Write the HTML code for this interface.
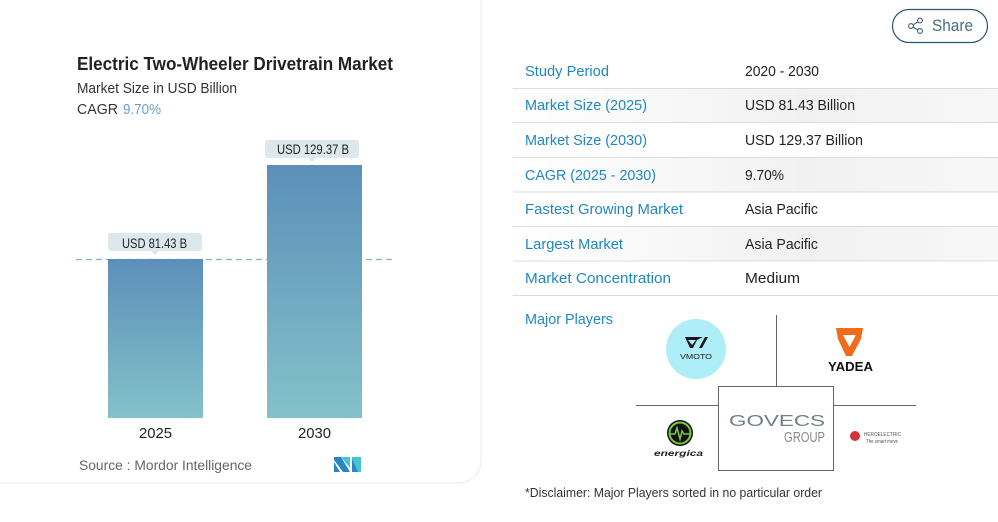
<!DOCTYPE html>
<html><head><meta charset="utf-8"><style>
html,body{margin:0;padding:0;background:#fff;width:998px;height:522px;overflow:hidden}
svg{display:block;font-family:"Liberation Sans",sans-serif}
</style></head><body>
<svg width="998" height="522" viewBox="0 0 998 522" xmlns="http://www.w3.org/2000/svg">
<defs>
<linearGradient id="bar" x1="0" y1="0" x2="0" y2="1">
<stop offset="0" stop-color="#5c8fb9"/>
<stop offset="1" stop-color="#83c2ca"/>
</linearGradient>
<linearGradient id="row" x1="0" y1="0" x2="1" y2="0">
<stop offset="0" stop-color="#ffffff"/>
<stop offset="0.6" stop-color="#f1f1f1"/>
<stop offset="1" stop-color="#f7f7f7"/>
</linearGradient>
</defs>

<!-- card -->
<rect x="-20" y="-20" width="501" height="503" rx="22" fill="#fff" stroke="#ebebeb" stroke-width="1"/>

<!-- title -->
<text x="77" y="70" font-size="18" font-weight="bold" fill="#222" textLength="316" lengthAdjust="spacingAndGlyphs">Electric Two-Wheeler Drivetrain Market</text>
<text x="77" y="93" font-size="15" fill="#333" textLength="160" lengthAdjust="spacingAndGlyphs">Market Size in USD Billion</text>
<text x="77" y="114" font-size="15" fill="#333" textLength="41" lengthAdjust="spacingAndGlyphs">CAGR</text>
<text x="123" y="114" font-size="15" fill="#6a9ed0" textLength="38" lengthAdjust="spacingAndGlyphs">9.70%</text>

<!-- dashed line behind bars -->
<line x1="76" y1="259.5" x2="396" y2="259.5" stroke="#86aed0" stroke-width="1.2" stroke-dasharray="6 4"/>
<!-- bars -->
<rect x="108" y="259" width="95" height="159" fill="url(#bar)"/>
<rect x="267" y="165" width="95" height="253" fill="url(#bar)"/>

<!-- labels -->
<rect x="108" y="233" width="94" height="18" rx="3" fill="#dde8ec"/>
<polygon points="151,251 159,251 155,255" fill="#dde8ec"/>
<text x="122" y="248" font-size="13.5" fill="#222" textLength="65" lengthAdjust="spacingAndGlyphs">USD 81.43 B</text>
<rect x="265" y="140" width="94" height="18" rx="3" fill="#dde8ec"/>
<polygon points="308,158 316,158 312,162" fill="#dde8ec"/>
<text x="277" y="154" font-size="13.5" fill="#222" textLength="72" lengthAdjust="spacingAndGlyphs">USD 129.37 B</text>

<text x="139" y="438" font-size="15" fill="#222" textLength="33" lengthAdjust="spacingAndGlyphs">2025</text>
<text x="298" y="438" font-size="15" fill="#222" textLength="33" lengthAdjust="spacingAndGlyphs">2030</text>

<text x="79" y="470" font-size="13.5" fill="#666" textLength="173" lengthAdjust="spacingAndGlyphs">Source :  Mordor Intelligence</text>
<!-- MI logo -->
<polygon points="334,457 341,457 350,472 343,472 334,460" fill="#2a86c2"/>
<polygon points="334,462 340,472 334,472" fill="#2a86c2"/>
<polygon points="341,457 350,457 350,468" fill="#44c6d0"/>
<polygon points="352,457 361,457 361,472 356,472 352,465" fill="#44c6d0"/>
<polygon points="352,459 358,472 352,472" fill="#2a86c2"/>

<!-- share button -->
<rect x="892.5" y="9.5" width="95" height="33" rx="16.5" fill="#fff" stroke="#2b5670" stroke-width="1.2"/>
<g fill="none" stroke="#4a6c84" stroke-width="1.2">
<circle cx="911" cy="26" r="2.4"/><circle cx="920" cy="20.5" r="2.4"/><circle cx="920" cy="31" r="2.4"/>
<line x1="913" y1="25" x2="918" y2="21.7"/><line x1="913" y1="27" x2="918" y2="30"/>
</g>
<text x="932" y="31" font-size="17" fill="#4a6c84" textLength="41" lengthAdjust="spacingAndGlyphs">Share</text>

<!-- table -->
<rect x="513" y="88.5" width="485" height="34" fill="url(#row)"/>
<rect x="513" y="157.5" width="485" height="34" fill="url(#row)"/>
<rect x="513" y="226.5" width="485" height="34" fill="url(#row)"/>
<g stroke="#dcdcdc" stroke-width="1">
<line x1="513" y1="88.5" x2="998" y2="88.5"/>
<line x1="513" y1="122.5" x2="998" y2="122.5"/>
<line x1="513" y1="157.5" x2="998" y2="157.5"/>
<line x1="513" y1="192" x2="998" y2="192"/>
<line x1="513" y1="226.5" x2="998" y2="226.5"/>
<line x1="513" y1="261" x2="998" y2="261"/>
<line x1="513" y1="295.5" x2="998" y2="295.5"/>
</g>
<g font-size="15" fill="#1f87c2">
<text x="525" y="76" textLength="84" lengthAdjust="spacingAndGlyphs">Study Period</text>
<text x="525" y="110" textLength="122" lengthAdjust="spacingAndGlyphs">Market Size (2025)</text>
<text x="525" y="145" textLength="122" lengthAdjust="spacingAndGlyphs">Market Size (2030)</text>
<text x="525" y="180" textLength="131" lengthAdjust="spacingAndGlyphs">CAGR (2025 - 2030)</text>
<text x="525" y="214" textLength="158" lengthAdjust="spacingAndGlyphs">Fastest Growing Market</text>
<text x="525" y="249" textLength="98" lengthAdjust="spacingAndGlyphs">Largest Market</text>
<text x="525" y="283" textLength="146" lengthAdjust="spacingAndGlyphs">Market Concentration</text>
<text x="525" y="324" textLength="88" lengthAdjust="spacingAndGlyphs">Major Players</text>
</g>
<g font-size="15" fill="#222">
<text x="745" y="76" textLength="74" lengthAdjust="spacingAndGlyphs">2020 - 2030</text>
<text x="745" y="110" textLength="110" lengthAdjust="spacingAndGlyphs">USD 81.43 Billion</text>
<text x="745" y="145" textLength="118" lengthAdjust="spacingAndGlyphs">USD 129.37 Billion</text>
<text x="745" y="180" textLength="39" lengthAdjust="spacingAndGlyphs">9.70%</text>
<text x="745" y="214" textLength="73" lengthAdjust="spacingAndGlyphs">Asia Pacific</text>
<text x="745" y="249" textLength="73" lengthAdjust="spacingAndGlyphs">Asia Pacific</text>
<text x="745" y="283" font-size="14.5" textLength="55" lengthAdjust="spacingAndGlyphs">Medium</text>
</g>

<!-- players grid -->
<g stroke="#666" stroke-width="1" fill="none">
<line x1="776.5" y1="315" x2="776.5" y2="386"/>
<line x1="636" y1="405.5" x2="718" y2="405.5"/>
<line x1="834" y1="405.5" x2="916" y2="405.5"/>
<rect x="718.5" y="386.5" width="115" height="84"/>
</g>

<!-- VMOTO -->
<circle cx="696" cy="349" r="30" fill="#aeeef9"/>
<path d="M685,337 L703,337 L697,340 L693,348 L690,348 Z" fill="#1a1a1a"/>
<path d="M699,348 L705,337 L708,337 L702,348 Z" fill="#1a1a1a"/>
<path d="M688,340 L696,340 L692,345 Z" fill="#aeeef9"/>
<text x="680" y="359" font-size="7.5" fill="#222" textLength="32" lengthAdjust="spacingAndGlyphs">VMOTO</text>

<!-- YADEA -->
<path d="M836,328 L863,328 L861,339 L852,356 L846,356 L838,339 Z" fill="#f26a1b"/>
<path d="M843,335 L856,335 L849.5,347 Z" fill="#fff"/>
<text x="828" y="371" font-size="13" font-weight="bold" fill="#111" textLength="45" lengthAdjust="spacingAndGlyphs">YADEA</text>

<!-- Energica -->
<circle cx="680" cy="433" r="13" fill="#111"/>
<circle cx="680" cy="433" r="10.5" fill="none" stroke="#7ac943" stroke-width="2"/>
<polyline points="669,434 675,434 677,428 680,439 682,431 684,434 690,434" fill="none" stroke="#7ac943" stroke-width="1.5"/>
<text x="654" y="456" font-size="8" font-weight="bold" font-style="italic" fill="#222" textLength="49" lengthAdjust="spacingAndGlyphs">energica</text>

<!-- GOVECS -->
<text x="729" y="426" font-size="16" fill="#6f8087" textLength="96" lengthAdjust="spacingAndGlyphs">GOVECS</text>
<text x="784" y="442" font-size="15" fill="#8a8a8a" textLength="41" lengthAdjust="spacingAndGlyphs">GROUP</text>

<!-- Hero -->
<circle cx="855" cy="436" r="5" fill="#d0343a"/>
<text x="864" y="436" font-size="5" fill="#555" textLength="37" lengthAdjust="spacingAndGlyphs">HEROELECTRIC</text>
<text x="866" y="443" font-size="5" fill="#555" textLength="32" lengthAdjust="spacingAndGlyphs">The smart move</text>

<!-- disclaimer -->
<text x="525" y="497" font-size="13" fill="#333" textLength="297" lengthAdjust="spacingAndGlyphs">*Disclaimer: Major Players sorted in no particular order</text>
</svg>
</body></html>
